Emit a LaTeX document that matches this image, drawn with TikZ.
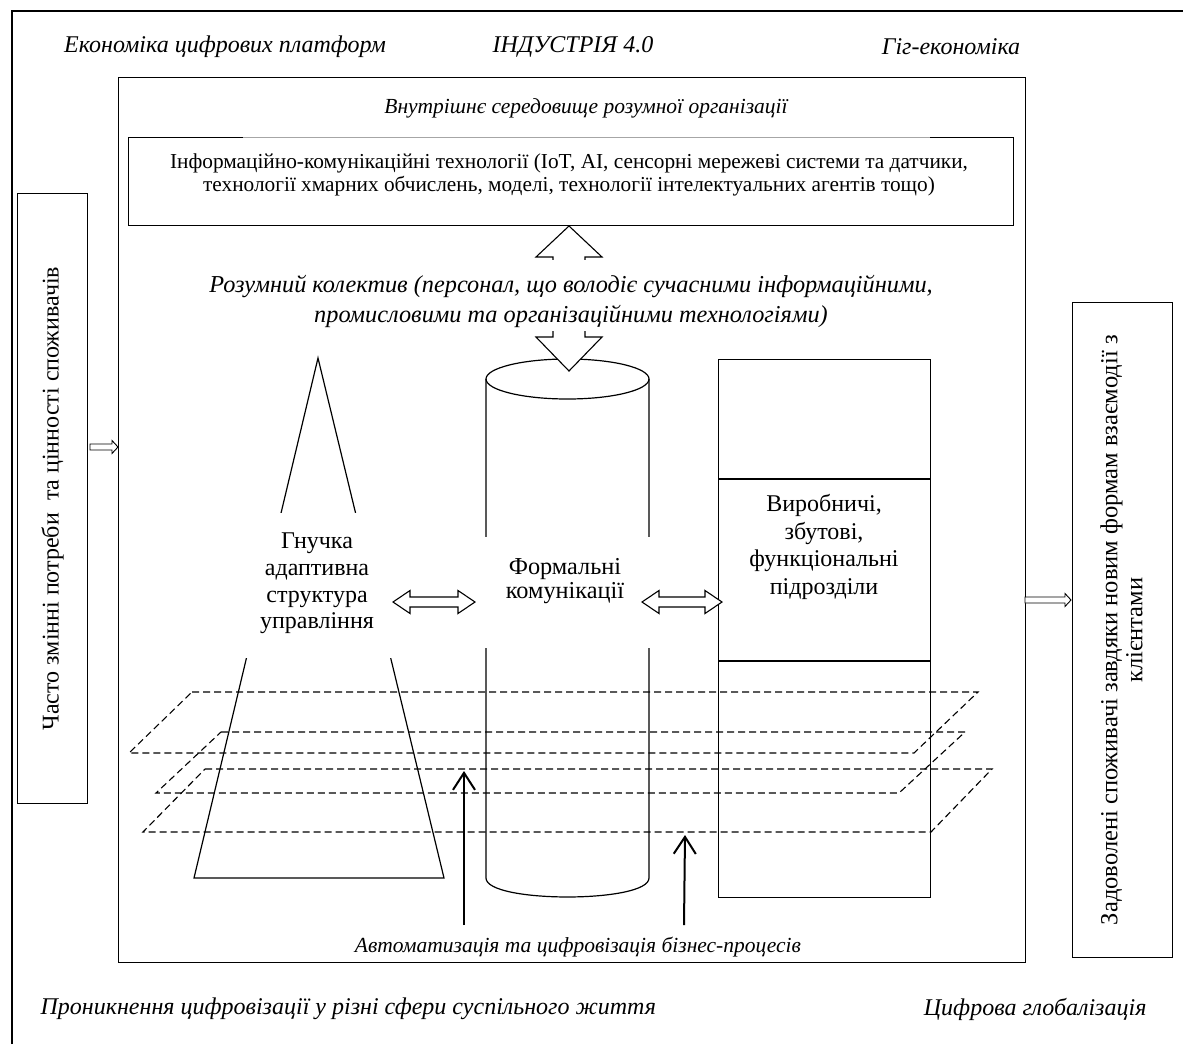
\documentclass[tikz,border=0pt]{standalone}
\usepackage{fontspec}
\setmainfont{Liberation Serif}
\usetikzlibrary{arrows.meta,calc}
\begin{document}
\begin{tikzpicture}[x=1pt,y=-1pt,line width=1.2pt,line join=miter,
  lbl/.style={font=\fontsize{24}{28}\selectfont\itshape,inner sep=0pt},
  sublbl/.style={font=\fontsize{21.5}{24}\selectfont\itshape,inner sep=0pt},
  boxtext/.style={font=\fontsize{24}{27.5}\selectfont,align=center,inner sep=0pt},
  frame/.style={draw,line width=1.2pt,inner sep=0pt},
  plane/.style={line width=1.1pt,dash pattern=on 7pt off 4pt},
  hollow/.style={draw,fill=white,line width=1.1pt},
  uparrow/.style={line width=2pt,-{Straight Barb[length=17pt,width=22pt,line width=2pt]}},
  cover/.style={fill=white,inner sep=0pt}]
\useasboundingbox (0,0) rectangle (1183,1044);
% outer frame
\draw[line width=1.3pt] (12,1044) -- (12,11) -- (1183,11);
% top labels
\node[lbl] (econ) at (225,47) {Економіка цифрових платформ};
\node[lbl] (ind) at (573,47) {ІНДУСТРІЯ 4.0};
\node[lbl] (gig) at (951,47) {Гіг-економіка};
% inner environment
\node[frame,anchor=north west,minimum width=907pt,minimum height=885pt] (env) at (118,77) {};
\node[sublbl] (envlbl) at (586,108) {Внутрішнє середовище розумної організації};
% ICT box
\node[frame,anchor=north west,minimum width=885pt,minimum height=88pt] (ict) at (128,137) {};
\draw[white,line width=1.4pt] (243,137) -- (930,137);
\draw[black!35,line width=1pt] (243,137) -- (930,137);
\node[font=\fontsize{21.3}{22.5}\selectfont,align=center,inner sep=0pt] (icttxt) at (569,175)
  {Інформаційно-комунікаційні технології (IoT, AI, сенсорні мережеві системи та датчики,\\технології хмарних обчислень, моделі, технології інтелектуальних агентів тощо)};
% cylinder
\coordinate (cylT) at (567.5,379);
\draw (cylT) ellipse [x radius=81.5pt, y radius=20pt];
\draw (486,379) -- (486,878) .. controls (486,903.3) and (649,903.3) .. (649,878) -- (649,379);
\node[cover,minimum width=168pt,minimum height=111pt] (cylcover) at (567.5,592.5) {};
\node[boxtext,font=\fontsize{24.3}{24.5}\selectfont] (cyl) at (565,581) {Формальні\\комунікації};
% block arrow (team)
\draw[hollow] (569,226) -- (602,257) -- (585,257) -- (585,337) -- (602,337) -- (569,371)
  -- (536,337) -- (553,337) -- (553,257) -- (536,257) -- cycle;
\node[cover,minimum width=40pt,minimum height=71pt] (teamcover) at (569,295) {};
\node[font=\fontsize{24.3}{30}\selectfont\itshape,align=center,inner sep=0pt] (team) at (571,301)
  {Розумний колектив (персонал, що володіє сучасними інформаційними,\\промисловими та організаційними технологіями)};
% pyramid
\draw (318,358) -- (194,878) -- (444,878) -- cycle;
\node[cover,minimum width=156pt,minimum height=145pt] (pyrcover) at (318,585.5) {};
\node[boxtext,font=\fontsize{24}{26.7}\selectfont] (pyr) at (317,583.5) {Гнучка\\адаптивна\\структура\\управління};
% departments
\node[frame,anchor=north west,minimum width=212pt,minimum height=538pt] (dept) at (718,359) {};
\draw ($(dept.north west)+(0,120)$) -- ($(dept.north east)+(0,120)$);
\draw ($(dept.north west)+(0,302)$) -- ($(dept.north east)+(0,302)$);
\node[boxtext,font=\fontsize{24}{27.7}\selectfont] (depttxt) at (824,547) {Виробничі,\\збутові,\\функціональні\\підрозділи};
% hollow double arrows
\coordinate (a1) at (393,602);
\draw[hollow] (a1) -- +(17,-11.5) -- +(17,-5) -- +(65,-5) -- +(65,-11.5) -- +(82,0)
  -- +(65,11.5) -- +(65,5) -- +(17,5) -- +(17,11.5) -- cycle;
\coordinate (a2) at (642,602);
\draw[hollow] (a2) -- +(17,-11.5) -- +(17,-5) -- +(63,-5) -- +(63,-11.5) -- +(80,0)
  -- +(63,11.5) -- +(63,5) -- +(17,5) -- +(17,11.5) -- cycle;
% planes
\draw[plane] (192,692) -- (978,692) -- (914,753) -- (129,753) -- cycle;
\draw[plane] (221,732) -- (965,732) -- (899,793) -- (156,793) -- cycle;
\draw[plane] (205,769) -- (992,769) -- (931,832) -- (143,832) -- cycle;
% automation arrows
\coordinate (v1s) at (464,925); \coordinate (v1e) at (464,771);
\coordinate (v2s) at (684,925); \coordinate (v2e) at (685,835);
\draw[uparrow] (v1s) -- (v1e);
\draw[uparrow] (v2s) -- (v2e);
\node[sublbl] (auto) at (578,947) {Автоматизація та цифровізація бізнес-процесів};
% left box
\node[frame,anchor=north west,minimum width=70pt,minimum height=610pt] (needs) at (17,193) {};
\node[rotate=90,font=\fontsize{24}{26}\selectfont,inner sep=0pt] (needstxt) at (needs.center) {Часто змінні потреби\ \ та цінності споживачів};
\coordinate (la) at (90,447);
\draw[hollow,line width=0.9pt] (la) -- +(0,-3) -- +(22,-3) -- +(22,-6.5) -- +(28,0) -- +(22,6.5) -- +(22,3) -- +(0,3) -- cycle;
% right box
\node[frame,anchor=north west,minimum width=100pt,minimum height=655pt] (sat) at (1072,302) {};
\node[rotate=90,font=\fontsize{24.5}{25}\selectfont,align=center,inner sep=0pt] (sattxt) at ([xshift=-1pt]sat.center) {Задоволені споживачі завдяки новим формам взаємодії з\\клієнтами};
\coordinate (ra) at (1025,600);
\draw[hollow,line width=0.9pt] (ra) -- +(0,-3) -- +(40,-3) -- +(40,-6.5) -- +(46,0) -- +(40,6.5) -- +(40,3) -- +(0,3) -- cycle;
% bottom labels
\node[lbl,anchor=west] (pen) at (40,1009) {Проникнення цифровізації у різні сфери суспільного життя};
\node[lbl,anchor=east] (glob) at (1147,1009) {Цифрова глобалізація};
\end{tikzpicture}
\end{document}
